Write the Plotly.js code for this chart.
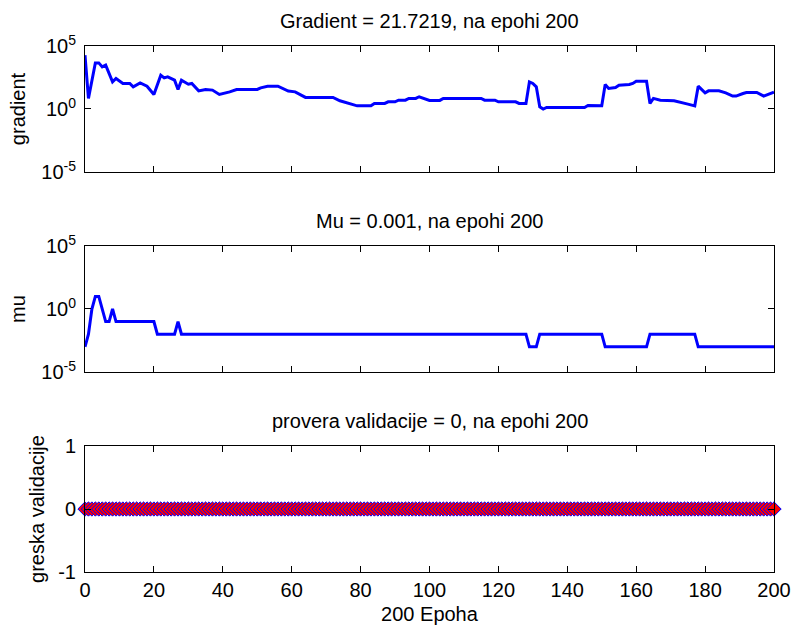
<!DOCTYPE html>
<html>
<head>
<meta charset="utf-8">
<script src="https://cdn.plot.ly/plotly-3.0.1.min.js"></script>
<style>html,body{margin:0;padding:0;background:#fff;}#chart{width:794px;height:627px;}</style>
</head>
<body>
<div id="chart"></div>
<script>
// ---- data ----
const gradEpochs = [0,1,3,4,5,6,8,9,11,13,14,16,18,20,22,23,24,26,27,28,30,31,33,35,37,39,42,44,50,51,53,56,59,61,64,72,74,76,79,83,84,87,88,90,91,93,94,96,97,100,103,104,115,116,119,120,125,126,128,129,130,131,132,133,134,145,146,150,151,152,154,155,158,159,160,163,164,165,167,171,173,175,177,178,180,181,184,186,188,189,191,192,195,197,200];
const gradValues = [18600,6.9,4570,4570,2190,3020,141,263,107,107,57.5,117,64.6,14.1,479,295,355,195,35.5,195,93.3,107,27.5,35.5,31.6,14.1,22.9,35.5,35.5,47.9,64.6,64.6,26.3,22.9,8.3,8.3,4.47,3.09,1.78,1.78,2.75,2.75,3.72,3.72,5.01,5.01,6.92,6.92,9.33,4.79,4.79,6.92,6.92,5.01,5.01,3.72,3.72,2.75,2.75,141,107,57.5,1.48,0.98,1.32,1.32,1.91,1.78,87.1,42.7,51.3,77.6,87.1,107,162,162,2.75,6.92,5.01,4.47,3.09,2.45,1.78,64.6,19.1,27.5,27.5,19.1,10.5,10.5,17,20.4,20.4,10.5,21.7219];

const muEpochs = [0,1,2,3,4,5,6,7,8,9,20,21,26,27,28,128,129,131,132,150,151,163,164,177,178,200];
const muValues = [0.001,0.01,1,10,10,1,0.1,0.1,1,0.1,0.1,0.01,0.01,0.1,0.01,0.01,0.001,0.001,0.01,0.01,0.001,0.001,0.01,0.01,0.001,0.001];

const valEpochs = [0,1,2,3,4,5,6,7,8,9,10,11,12,13,14,15,16,17,18,19,20,21,22,23,24,25,26,27,28,29,30,31,32,33,34,35,36,37,38,39,40,41,42,43,44,45,46,47,48,49,50,51,52,53,54,55,56,57,58,59,60,61,62,63,64,65,66,67,68,69,70,71,72,73,74,75,76,77,78,79,80,81,82,83,84,85,86,87,88,89,90,91,92,93,94,95,96,97,98,99,100,101,102,103,104,105,106,107,108,109,110,111,112,113,114,115,116,117,118,119,120,121,122,123,124,125,126,127,128,129,130,131,132,133,134,135,136,137,138,139,140,141,142,143,144,145,146,147,148,149,150,151,152,153,154,155,156,157,158,159,160,161,162,163,164,165,166,167,168,169,170,171,172,173,174,175,176,177,178,179,180,181,182,183,184,185,186,187,188,189,190,191,192,193,194,195,196,197,198,199,200];
const valValues = [0,0,0,0,0,0,0,0,0,0,0,0,0,0,0,0,0,0,0,0,0,0,0,0,0,0,0,0,0,0,0,0,0,0,0,0,0,0,0,0,0,0,0,0,0,0,0,0,0,0,0,0,0,0,0,0,0,0,0,0,0,0,0,0,0,0,0,0,0,0,0,0,0,0,0,0,0,0,0,0,0,0,0,0,0,0,0,0,0,0,0,0,0,0,0,0,0,0,0,0,0,0,0,0,0,0,0,0,0,0,0,0,0,0,0,0,0,0,0,0,0,0,0,0,0,0,0,0,0,0,0,0,0,0,0,0,0,0,0,0,0,0,0,0,0,0,0,0,0,0,0,0,0,0,0,0,0,0,0,0,0,0,0,0,0,0,0,0,0,0,0,0,0,0,0,0,0,0,0,0,0,0,0,0,0,0,0,0,0,0,0,0,0,0,0,0,0,0,0,0,0];

const titles = ['Gradient = 21.7219, na epohi 200', 'Mu = 0.001, na epohi 200', 'provera validacije = 0, na epohi 200'];
const yLabels = ['gradient', 'mu', 'greska validacije'];
const xLabel = '200 Epoha';
const xTickVals = [0,20,40,60,80,100,120,140,160,180,200];
const logTickVals = [1e-5, 1, 1e5];
const logTickText = ['10<sup>-5</sup>', '10<sup>0</sup>', '10<sup>5</sup>'];
const valTickVals = [-1, 0, 1];
const valTickText = ['-1', '0', '1'];

// ---- drawing ----
const FONT = 'Liberation Sans, Arial, sans-serif';
const traces = [
  {x: gradEpochs, y: gradValues, xaxis: 'x', yaxis: 'y', mode: 'lines',
   line: {color: '#0000ff', width: 3}, hoverinfo: 'skip'},
  {x: muEpochs, y: muValues, xaxis: 'x2', yaxis: 'y2', mode: 'lines',
   line: {color: '#0000ff', width: 3}, hoverinfo: 'skip'},
  {x: valEpochs, y: valValues, xaxis: 'x3', yaxis: 'y3', mode: 'markers',
   marker: {symbol: 'diamond', size: 11, color: '#ff0000', line: {color: '#0000ff', width: 1}},
   cliponaxis: false, hoverinfo: 'skip'}
];

const domains = [[0.7605, 1], [0.3802, 0.6198], [0, 0.2395]];
const tickFont = {family: FONT, size: 20, color: '#000'};
const labelFont = {family: FONT, size: 20, color: '#000'};

function xAxis(anchor, showLabels) {
  return {
    anchor: anchor, domain: [0, 1], range: [0, 200],
    tickmode: 'array', tickvals: xTickVals, showticklabels: showLabels,
    ticks: 'inside', ticklen: 6, tickwidth: 1, tickcolor: '#000',
    showline: true, linecolor: '#000', linewidth: 1, mirror: 'ticks',
    showgrid: false, zeroline: false, tickfont: tickFont
  };
}
function yAxis(anchor, dom, extra) {
  return Object.assign({
    anchor: anchor, domain: dom,
    ticks: 'inside', ticklen: 6, tickwidth: 1, tickcolor: '#000',
    showline: true, linecolor: '#000', linewidth: 1, mirror: 'ticks',
    showgrid: false, zeroline: false, tickfont: tickFont, ticklabelstandoff: 4
  }, extra);
}

const layout = {
  width: 794, height: 627,
  margin: {l: 85, r: 20, t: 46, b: 55, pad: 0},
  paper_bgcolor: '#fff', plot_bgcolor: '#fff',
  showlegend: false,
  font: {family: FONT, size: 20, color: '#000'},
  xaxis: xAxis('y', false),
  xaxis2: xAxis('y2', false),
  xaxis3: Object.assign(xAxis('y3', true), {title: {text: xLabel, font: labelFont, standoff: 6}}),
  yaxis: yAxis('x', domains[0], {type: 'log', range: [-5, 5], tickmode: 'array', tickvals: logTickVals, ticktext: logTickText,
    title: {text: yLabels[0], font: labelFont, standoff: 10}}),
  yaxis2: yAxis('x2', domains[1], {type: 'log', range: [-5, 5], tickmode: 'array', tickvals: logTickVals, ticktext: logTickText,
    title: {text: yLabels[1], font: labelFont, standoff: 10}}),
  yaxis3: yAxis('x3', domains[2], {range: [-1, 1], tickmode: 'array', tickvals: valTickVals, ticktext: valTickText,
    title: {text: yLabels[2], font: labelFont, standoff: 8}}),
  annotations: titles.map((t, i) => ({
    text: t, xref: 'paper', yref: 'paper', x: 0.5, y: domains[i][1],
    xanchor: 'center', yanchor: 'bottom', yshift: 12, showarrow: false,
    font: {family: FONT, size: 20, color: '#000'}
  }))
};

Plotly.newPlot('chart', traces, layout, {staticPlot: true, displayModeBar: false});
</script>
</body>
</html>
